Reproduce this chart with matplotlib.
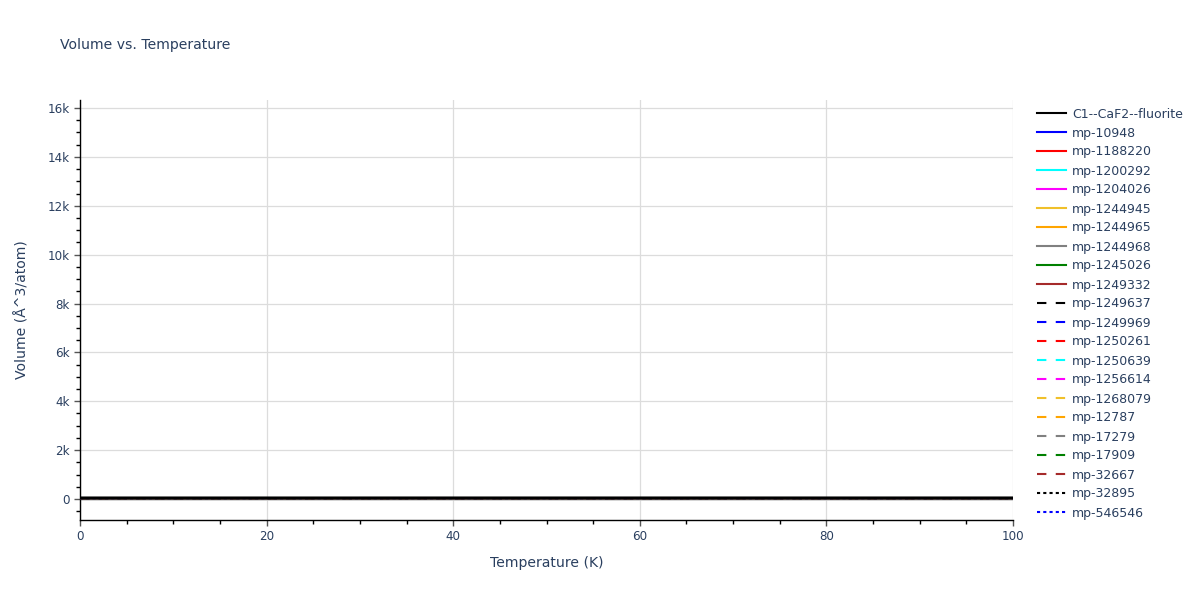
import matplotlib
matplotlib.use("Agg")
import matplotlib.pyplot as plt
from matplotlib.ticker import MultipleLocator, FuncFormatter

plt.rcParams['font.family'] = ['DejaVu Sans']

# ---- data ----
temperature = [0, 10, 20, 30, 40, 50, 60, 70, 80, 90, 100]
series_names = [
    "C1--CaF2--fluorite", "mp-10948", "mp-1188220", "mp-1200292", "mp-1204026",
    "mp-1244945", "mp-1244965", "mp-1244968", "mp-1245026", "mp-1249332",
    "mp-1249637", "mp-1249969", "mp-1250261", "mp-1250639", "mp-1256614",
    "mp-1268079", "mp-12787", "mp-17279", "mp-17909", "mp-32667",
    "mp-32895", "mp-546546",
]
vol_c1 = [40.0, 40.0, 40.0, 40.0, 40.1, 40.1, 40.1, 40.2, 40.2, 40.3, 40.3]
vol_other = [38.0, 38.0, 38.0, 38.0, 38.1, 38.1, 38.1, 38.2, 38.2, 38.3, 38.3]
y_range = [-860, 16330]
x_range = [0, 100]

colors = ["black", "blue", "red", "cyan", "magenta", "#f0c02a", "orange", "gray",
          "green", "brown"]
series_colors = colors + colors + ["black", "blue"]
series_styles = ["solid"] * 10 + ["dash"] * 10 + ["dot"] * 2

# ---- figure ----
fig = plt.figure(figsize=(12, 6), dpi=100)
ax = fig.add_axes([80 / 1200, 1 - 520 / 600, (1013 - 80) / 1200, (520 - 100) / 600])

text_color = "#2a3f5f"
lw = 1.5
for i, name in enumerate(series_names):
    vals = vol_c1 if i == 0 else vol_other
    kw = dict(color=series_colors[i], lw=lw, label=name)
    st = series_styles[i]
    if st == "dash":
        kw["dashes"] = (4.5, 4.5)
    elif st == "dot":
        kw["dashes"] = (1.5, 1.5)
    z = 10 if i == 0 else 3
    ax.plot(temperature, vals, zorder=z, **kw)
# redraw C1 thicker on top
ax.plot(temperature, vol_c1, color="black", lw=2.2, zorder=11)

ax.set_xlim(*x_range)
ax.set_ylim(*y_range)

ax.xaxis.set_major_locator(MultipleLocator(20))
ax.xaxis.set_minor_locator(MultipleLocator(5))
ax.yaxis.set_major_locator(MultipleLocator(2000))
ax.yaxis.set_minor_locator(MultipleLocator(500))


def kfmt(v, pos):
    if v == 0:
        return "0"
    return f"{int(round(v / 1000))}k"


ax.yaxis.set_major_formatter(FuncFormatter(kfmt))

ax.grid(True, which="major", color="#dcdcdc", lw=0.9, zorder=0)
ax.axhline(0, color="#c8c8c8", lw=1.8, zorder=1)
ax.set_axisbelow(True)

for s in ["top", "right"]:
    ax.spines[s].set_visible(False)
for s in ["left", "bottom"]:
    ax.spines[s].set_color("black")
    ax.spines[s].set_linewidth(1.0)

ax.tick_params(axis="both", which="major", direction="out", length=4.5, width=1,
               color="#555555", labelcolor=text_color, labelsize=8.6, pad=3)
ax.tick_params(axis="both", which="minor", direction="out", length=3, width=1,
               color="black")

ax.set_xlabel("Temperature (K)", color=text_color, fontsize=10.1, labelpad=9)
ax.set_ylabel("Volume (Å^3/atom)", color=text_color, fontsize=10.1, labelpad=13)

fig.text(60 / 1200, 1 - 45 / 600, "Volume vs. Temperature", color=text_color,
         fontsize=10.1, va="center", ha="left")

leg = ax.legend(loc="upper left", bbox_to_anchor=(1037 / 1200, 1 - 107.5 / 600),
                bbox_transform=fig.transFigure, frameon=False, fontsize=9.0,
                handlelength=2.3, handletextpad=0.5, labelspacing=0.48,
                borderaxespad=0, borderpad=0)
for t in leg.get_texts():
    t.set_color(text_color)

fig.savefig("out.png", dpi=100)
